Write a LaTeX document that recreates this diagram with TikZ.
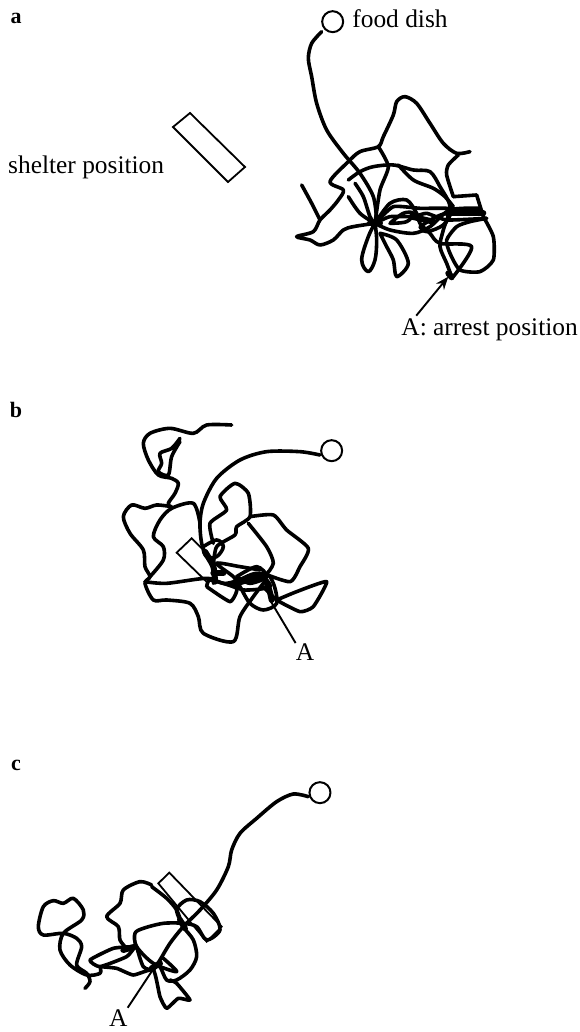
\documentclass[tikz,border=0pt]{standalone}
\usepackage{fontspec}
\setmainfont{Liberation Serif}
\usetikzlibrary{arrows.meta,positioning}
\tikzset{
  trail/.style={line width=3.6pt,line join=round,line cap=round},
  core/.style={line width=6pt,line join=round,line cap=round},
  thinline/.style={line width=1.9pt},
  dish/.style={circle,draw,line width=2pt,fill=white,inner sep=0pt,minimum size=21pt},
  shelter/.style={line width=1.8pt,line join=miter},
  lab/.style={font=\fontsize{25.4}{27}\selectfont,inner sep=0pt},
  panel/.style={font=\fontsize{22}{24}\selectfont\bfseries,inner sep=0pt}
}
\begin{document}
\begin{tikzpicture}[x=1pt,y=-1pt]
  \path[fill=white,use as bounding box] (0,0) rectangle (580,1032);

  % Panel a
  \node[panel] (pa) at (16,18) {a};
  \node[lab,anchor=west] (shelterlab) at (8,167) {shelter position};
  \draw[shelter] (173,127) -- (190,113) -- (245,167) -- (228,182) -- cycle;
  \begin{scope}[shift={(280,0)},scale=0.3333]
    \draw[trail] plot[smooth,tension=.5] coordinates {(125,95) (95,130) (85,175) (95,230) (110,310) (140,390) (190,460) (240,520) (280,590) (290,660)};
    \draw[trail] plot[smooth,tension=.5] coordinates {(570,455) (530,460) (490,430) (450,370) (410,310) (375,290) (350,305) (340,345) (310,410) (295,440) (240,455) (205,485) (150,545) (190,570) (175,600) (150,630) (120,660) (100,695) (50,710) (90,720) (120,735) (160,720) (190,690) (220,680) (285,670)};
    \draw[trail] plot[smooth,tension=.4] coordinates {(535,465) (505,495) (500,525) (520,590)};
    \draw[trail] plot[smooth,tension=.5] coordinates {(65,555) (95,610) (120,660)};
    \draw[trail] plot[smooth,tension=.6] coordinates {(285,670) (265,710) (245,780) (265,815) (285,780) (290,720) (285,670)};
    \draw[trail] plot[smooth,tension=.5] coordinates {(300,700) (350,720) (385,790) (350,830) (340,780) (320,740) (300,700)};
    \draw[trail] plot[smooth,tension=.4] coordinates {(295,440) (325,500) (300,570) (285,670)};
    \draw[trail] plot[smooth,tension=.5] coordinates {(205,540) (240,515) (280,500) (340,495) (400,510) (450,515) (480,560) (510,620) (490,690) (480,740) (500,790) (515,830)};
    \draw[trail] plot[smooth,tension=.5] coordinates {(355,495) (400,540) (460,565) (495,590) (520,620)};
    \draw[trail] plot[smooth,tension=.5] coordinates {(225,550) (250,590) (270,650) (285,670)};
    \draw[trail] plot[smooth,tension=.5] coordinates {(205,590) (240,640) (285,670)};
    \draw[trail] plot[smooth,tension=.5] coordinates {(285,670) (330,610) (380,600) (410,640) (420,670) (450,700) (480,730) (575,740) (520,830)};
    \draw[trail] (520,590) -- (590,585) -- (610,650);
    \draw[trail] plot[smooth,tension=.4] coordinates {(610,650) (640,710) (640,780) (600,815) (540,810) (510,760) (500,720) (530,680) (570,665) (620,655)};
    \draw[trail] plot[smooth,tension=.3] coordinates {(620,655) (500,660) (440,640) (400,650) (330,650) (285,670)};
    \draw[trail] plot[smooth,tension=.5] coordinates {(285,670) (330,690) (400,700) (450,680) (510,630) (600,625)};
    \draw[trail] plot[smooth,tension=.3] coordinates {(600,635) (500,625) (420,625) (340,620) (285,670)};
    \draw[trail] plot[smooth,tension=.6] coordinates {(420,680) (470,650) (510,640) (490,675) (440,695) (420,680)};
    \draw[trail] plot[smooth,tension=.6] coordinates {(330,670) (370,640) (400,640) (380,665) (330,670)};
    \draw[core] (270,670) -- (300,670);
    \draw[core] (395,650) -- (460,665);
    \draw[core] (500,640) -- (610,640);
    \draw[core] (505,820) -- (515,832);
    \node[dish] (dishA) at (158,65) {};
    \coordinate (arrestA) at (505,830);
  \end{scope}
  \node[lab,right=8pt of dishA,yshift=3pt] (foodlab) {food dish};
  \node[lab,anchor=east] (arrestlab) at (578,330) {A: arrest position};
  \draw[thinline,-{Stealth[length=13pt,width=10pt]}] (arrestlab.north west) ++(15,-3) -- (arrestA);

  % Panel b
  \node[panel] (pb) at (16,410) {b};
  \begin{scope}[shift={(100,410)},scale=0.3333]
    \draw[shelter] (325,520) -- (230,428) -- (275,385) -- (340,450);
    \draw[trail] plot[smooth,tension=.5] coordinates {(660,135) (600,125) (500,125) (420,150) (350,205) (310,280) (300,340) (305,400) (320,440) (345,480) (340,520)};
    \draw[trail] plot[smooth,tension=.5] coordinates {(395,45) (320,45) (280,70) (210,55) (150,70) (130,100) (145,150) (175,195) (215,205) (235,220) (225,250) (205,280) (215,295)};
    \draw[trail] plot[smooth,tension=.5] coordinates {(240,85) (215,115) (180,130) (185,160) (175,185) (205,195) (215,140) (240,95)};
    \draw[trail] plot[smooth,tension=.5] coordinates {(215,290) (170,285) (135,295) (95,285) (70,320) (90,370) (130,420) (135,470) (150,500) (135,520) (160,570) (200,570) (270,580) (295,620) (310,670) (400,695) (420,620) (460,560) (490,520)};
    \draw[trail] plot[smooth,tension=.5] coordinates {(150,500) (190,450) (190,410) (160,380) (180,330) (215,295) (280,280) (300,340)};
    \draw[trail] plot[smooth,tension=.5] coordinates {(135,515) (200,520) (320,505) (380,520) (490,490) (520,520) (530,580) (490,600) (450,580) (420,530) (400,500) (350,460) (420,470) (480,480)};
    \draw[trail] plot[smooth,tension=.4] coordinates {(340,400) (330,340) (380,300) (360,260) (405,220) (445,250) (450,320) (410,350) (405,375) (350,410) (340,470)};
    \draw[trail] plot[smooth,tension=.4] coordinates {(450,320) (520,315) (560,360) (625,415) (600,470) (570,515) (490,490)};
    \draw[trail] plot[smooth,tension=.4] coordinates {(445,340) (500,410) (520,460) (490,500) (420,510)};
    \draw[trail] plot[smooth,tension=.3] coordinates {(490,530) (530,570) (600,605) (640,590) (680,515) (590,545) (530,570)};
    \draw[trail] plot[smooth,tension=.6] coordinates {(310,410) (350,390) (370,410) (350,440) (320,440) (310,420)};
    \draw[trail] plot[smooth,tension=.3] coordinates {(320,530) (390,575) (410,535) (330,510) (320,530)};
    \draw[trail] plot[smooth,tension=.5] coordinates {(400,520) (470,490) (510,530) (430,540) (400,520)};
    \draw[trail] plot[smooth,tension=.5] coordinates {(410,500) (470,470) (500,500) (450,520) (410,500)};
    \draw[core] plot[smooth,tension=.5] coordinates {(315,425) (340,470) (345,515)};
    \draw[core] plot[smooth,tension=.5] coordinates {(410,520) (490,505) (515,570)};
    \draw[core] (340,490) -- (370,490);
    \node[dish] (dishB) at (695,122) {};
    \coordinate (arrestB) at (510,570);
    \node[lab] (arrestlabB) at (615,725) {A};
  \end{scope}
  \draw[thinline] (arrestlabB.north west) -- (arrestB);

  % Panel c
  \node[panel] (pc) at (16,765) {c};
  \begin{scope}[shift={(20,770)},scale=0.3333]
    \draw[shelter] (415,340) -- (448,308) -- (605,470) -- (560,515) -- cycle;
    \draw[trail] plot[smooth,tension=.5] coordinates {(865,80) (820,72) (770,95) (710,145) (660,190) (635,240) (625,290) (590,360) (540,420) (490,470) (450,520) (420,570) (400,600)};
    \draw[trail] plot[smooth,tension=.5] coordinates {(395,345) (360,335) (310,360) (300,400) (260,440) (295,470) (300,510) (320,535)};
    \draw[trail] plot[smooth,tension=.5] coordinates {(395,350) (440,385) (470,420) (490,470) (520,510) (530,560) (510,600) (470,630) (440,630) (420,590) (405,590)};
    \draw[trail] plot[smooth,tension=.5] coordinates {(490,470) (470,420) (500,390) (540,395) (580,430) (600,480) (560,510) (530,470) (490,460) (430,460) (370,475) (345,490) (350,530) (400,580) (470,605) (430,565)};
    \draw[trail] plot[smooth,tension=.3] coordinates {(340,530) (280,535) (210,570) (240,590) (320,560) (345,530)};
    \draw[trail] plot[smooth,tension=.3] coordinates {(240,590) (290,595) (340,615) (400,600) (420,680) (440,715) (475,685) (510,690) (470,640) (450,630)};
    \draw[trail] plot[smooth,tension=.5] coordinates {(350,530) (370,590) (400,600)};
    \draw[trail] plot[smooth,tension=.5] coordinates {(195,655) (210,635) (200,610) (170,585) (185,530) (170,505) (130,490) (70,495) (55,470) (70,410) (100,392) (130,400) (160,385) (190,420) (185,450) (130,490) (120,540) (150,585) (200,615) (240,610) (240,590)};
    \draw[core] (310,540) -- (345,530);
    \draw[core] (395,595) -- (420,580);
    \draw[core] (480,450) -- (495,475);
    \node[dish] (dishC) at (900,68) {};
    \coordinate (arrestC) at (398,600);
    \node[lab] (arrestlabC) at (295,745) {A};
  \end{scope}
  \draw[thinline] (arrestlabC.north east) ++(0,-2) -- (arrestC);
\end{tikzpicture}
\end{document}
